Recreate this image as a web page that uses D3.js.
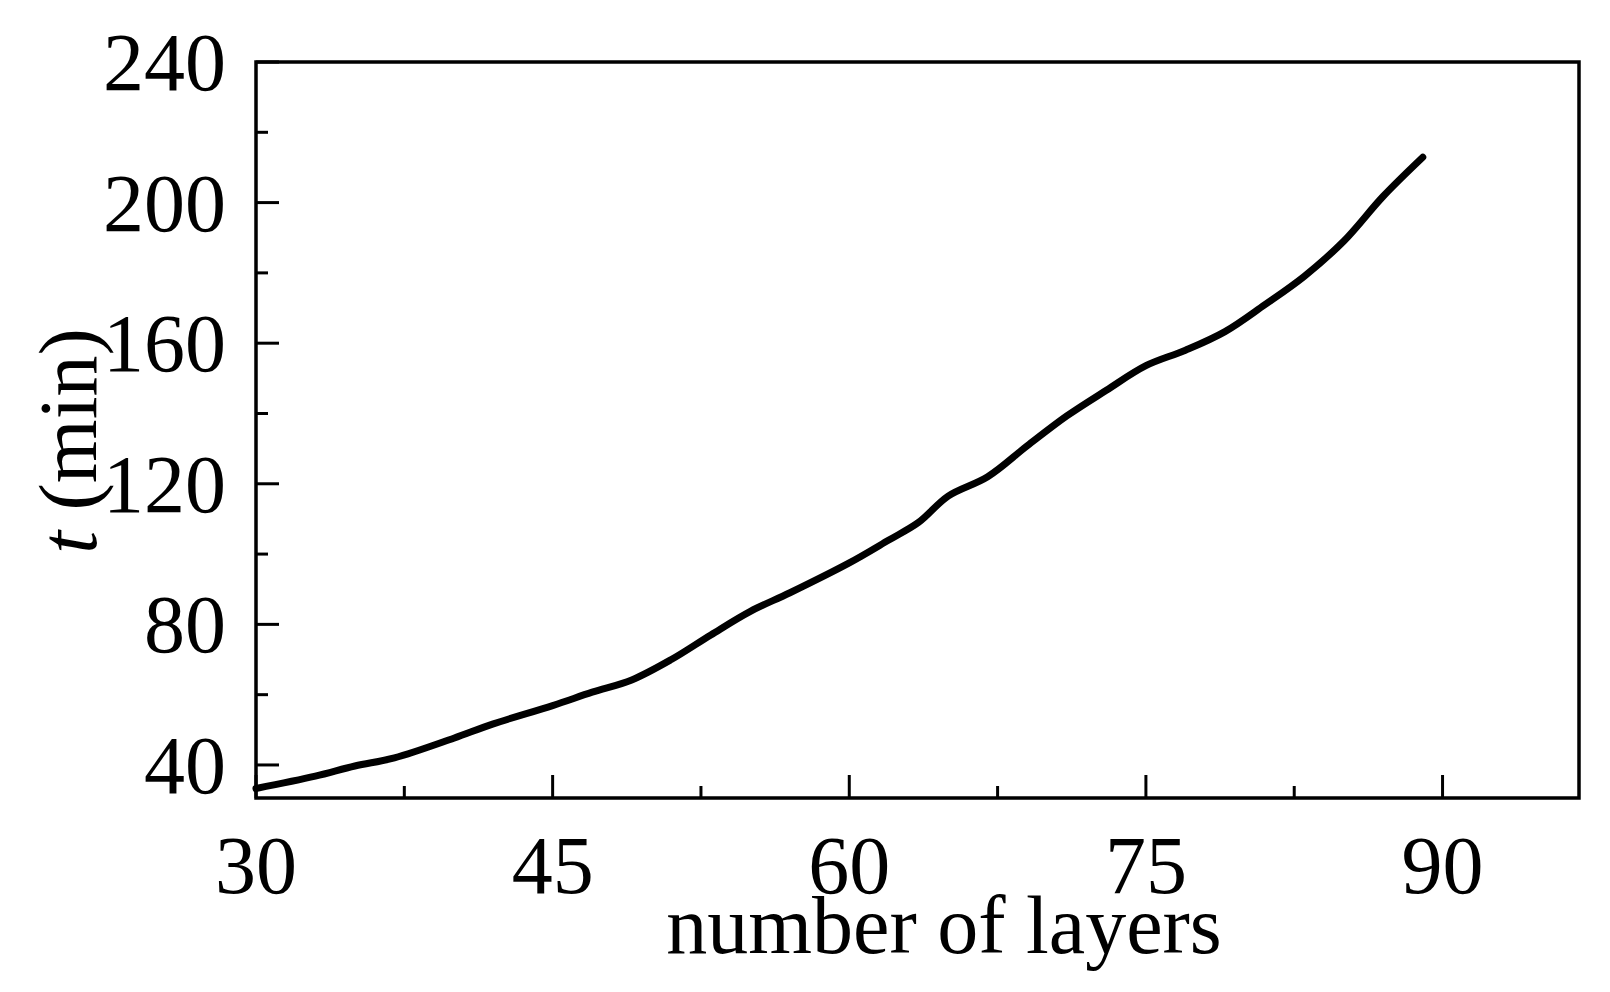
<!DOCTYPE html>
<html><head><meta charset="utf-8">
<script src="https://cdn.jsdelivr.net/npm/d3@7"></script>
<style>body{margin:0;background:#fff}</style></head>
<body><svg id="c" width="1610" height="992"></svg>
<script>
const layers=[30,33,35,37,40,42,45,47,49,51,53,55,57,60,62,63.5,65,67,69,71,73,75,77,79,81,83,85,87,89];
const times=[33.3,36.8,39.7,42,47.6,51.7,56.9,60.7,64.2,70,77,83.7,89,97.5,104,109,116.5,122,130.8,139.3,146.6,153.6,158,163.3,170.9,179,189,201.8,212.9];
const xTicks=[30,45,60,75,90], xMinor=[37.5,52.5,67.5,82.5];
const yTicks=[40,80,120,160,200,240], yMinor=[60,100,140,180,220];
const svg=d3.select("#c");
const L=256,R=1579,T=62,B=798;
const x=d3.scaleLinear().domain([30,96.9]).range([L,R]);
const y=d3.scaleLinear().domain([30.6,240]).range([B,T]);
const f="Liberation Serif";
svg.append("rect").attr("x",L).attr("y",T).attr("width",R-L).attr("height",B-T).attr("fill","none").attr("stroke","#000").attr("stroke-width",3.5);
const g=svg.append("g");
xTicks.forEach(v=>g.append("line").attr("x1",x(v)).attr("x2",x(v)).attr("y1",B).attr("y2",B-23).attr("stroke","#000").attr("stroke-width",3));
xMinor.forEach(v=>g.append("line").attr("x1",x(v)).attr("x2",x(v)).attr("y1",B).attr("y2",B-12).attr("stroke","#000").attr("stroke-width",3));
yTicks.forEach(v=>g.append("line").attr("y1",y(v)).attr("y2",y(v)).attr("x1",L).attr("x2",L+23).attr("stroke","#000").attr("stroke-width",3));
yMinor.forEach(v=>g.append("line").attr("y1",y(v)).attr("y2",y(v)).attr("x1",L).attr("x2",L+12).attr("stroke","#000").attr("stroke-width",3));
xTicks.forEach(v=>g.append("text").attr("x",x(v)).attr("y",893).attr("text-anchor","middle").attr("font-family",f).attr("font-size",82).text(v));
yTicks.forEach(v=>g.append("text").attr("x",226).attr("y",y(v)+28).attr("text-anchor","end").attr("font-family",f).attr("font-size",82).text(v));
svg.append("text").attr("x",944).attr("y",953).attr("text-anchor","middle").attr("font-family",f).attr("font-size",82).text("number of layers");
const yl=svg.append("text").attr("transform","translate(96,441) rotate(-90)").attr("text-anchor","middle").attr("font-family",f).attr("font-size",82);
yl.append("tspan").attr("font-style","italic").text("t");
yl.append("tspan").text(" (min)");
const line=d3.line().x((d,i)=>x(layers[i])).y(d=>y(d)).curve(d3.curveCatmullRom);
svg.append("path").attr("d",line(times)).attr("fill","none").attr("stroke","#000").attr("stroke-width",7).attr("stroke-linecap","round");
</script></body></html>
